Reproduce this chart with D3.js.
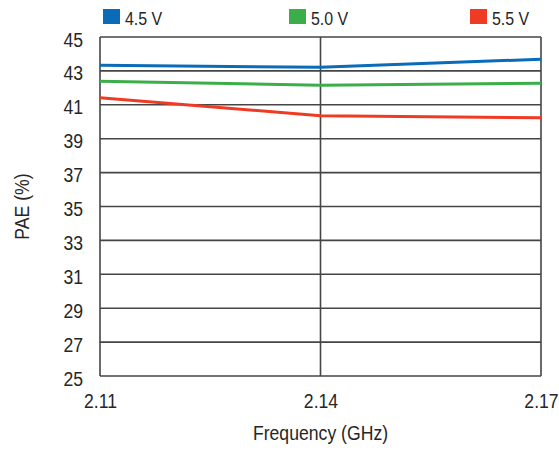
<!DOCTYPE html>
<html>
<head>
<meta charset="utf-8">
<script src="https://cdn.jsdelivr.net/npm/d3@7"></script>
<style>
  html, body { margin: 0; padding: 0; background: #fff; }
  svg { display: block; }
  text { font-family: "Liberation Sans", Arial, sans-serif; fill: #262626; }
</style>
</head>
<body>
<svg id="chart" width="559" height="451"></svg>
<script>
const frequencies = [2.11, 2.14, 2.17];
const xTickLabels = ["2.11", "2.14", "2.17"];
const yTicks = [25, 27, 29, 31, 33, 35, 37, 39, 41, 43, 45];
const seriesNames = ["4.5 V", "5.0 V", "5.5 V"];
const seriesColors = ["#0a6bb8", "#3cae49", "#ef3b24"];
const pae45 = [43.33, 43.21, 43.69];
const pae50 = [42.39, 42.15, 42.27];
const pae55 = [41.42, 40.36, 40.24];
const seriesValues = [pae45, pae50, pae55];

const K = 0.84; // horizontal condensing to mimic a condensed typeface
const svg = d3.select("#chart");
const margin = {left: 100, right: 18, top: 37, bottom: 75};
const W = 559, H = 451;

const x = d3.scaleLinear().domain([2.11, 2.17]).range([margin.left, W - margin.right]);
const y = d3.scaleLinear().domain([25, 45]).range([H - margin.bottom, margin.top]);

const gridColor = "#454545";

svg.append("g").selectAll("line").data(yTicks).join("line")
  .attr("x1", x(2.11)).attr("x2", x(2.17))
  .attr("y1", d => y(d)).attr("y2", d => y(d))
  .attr("stroke", gridColor).attr("stroke-width", 1.6);

svg.append("g").selectAll("line").data(frequencies).join("line")
  .attr("x1", d => x(d)).attr("x2", d => x(d))
  .attr("y1", y(25)).attr("y2", y(45))
  .attr("stroke", gridColor).attr("stroke-width", 1.6);

// y axis labels
const yAxis = d3.axisLeft(y).tickValues(yTicks).tickSize(0).tickPadding(17).tickFormat(d3.format("d"));
const gy = svg.append("g").attr("transform", `translate(${margin.left},0)`).call(yAxis);
gy.select(".domain").remove();
gy.selectAll("text")
  .style("font-size", "21px")
  .attr("dy", "0.43em")
  .attr("x", -17 / K)
  .attr("transform", `scale(${K},1)`);

// x axis labels
const xAxis = d3.axisBottom(x).tickValues(frequencies).tickSize(0).tickPadding(17)
  .tickFormat((d, i) => xTickLabels[i]);
const gx = svg.append("g").attr("transform", `translate(0,${y(25)})`).call(xAxis);
gx.select(".domain").remove();
gx.selectAll("text")
  .style("font-size", "21px")
  .attr("transform", `scale(${K},1)`);

// lines
const line = d3.line().x((d, i) => x(frequencies[i])).y(d => y(d));
svg.append("g").selectAll("path").data(seriesValues).join("path")
  .attr("d", d => line(d))
  .attr("fill", "none")
  .attr("stroke", (d, i) => seriesColors[i])
  .attr("stroke-width", 3);

// axis titles
svg.append("g").attr("transform", `translate(${x(2.14)},440)`)
  .append("text")
  .attr("transform", `scale(${K},1)`)
  .attr("text-anchor", "middle")
  .style("font-size", "21px")
  .text("Frequency (GHz)");

svg.append("g").attr("transform", `translate(29,${(y(25)+y(45))/2}) rotate(-90)`)
  .append("text")
  .attr("transform", `scale(${K},1)`)
  .attr("text-anchor", "middle")
  .style("font-size", "21px")
  .text("PAE (%)");

// legend
const legendX = [103, 289, 470];
const lg = svg.append("g").selectAll("g").data(seriesNames).join("g")
  .attr("transform", (d, i) => `translate(${legendX[i]},9)`);
lg.append("rect").attr("width", 17).attr("height", 15).attr("fill", (d, i) => seriesColors[i]);
lg.append("g").attr("transform", "translate(22,16)")
  .append("text")
  .attr("transform", `scale(${K},1)`)
  .style("font-size", "19px")
  .text(d => d);
</script>
</body>
</html>
